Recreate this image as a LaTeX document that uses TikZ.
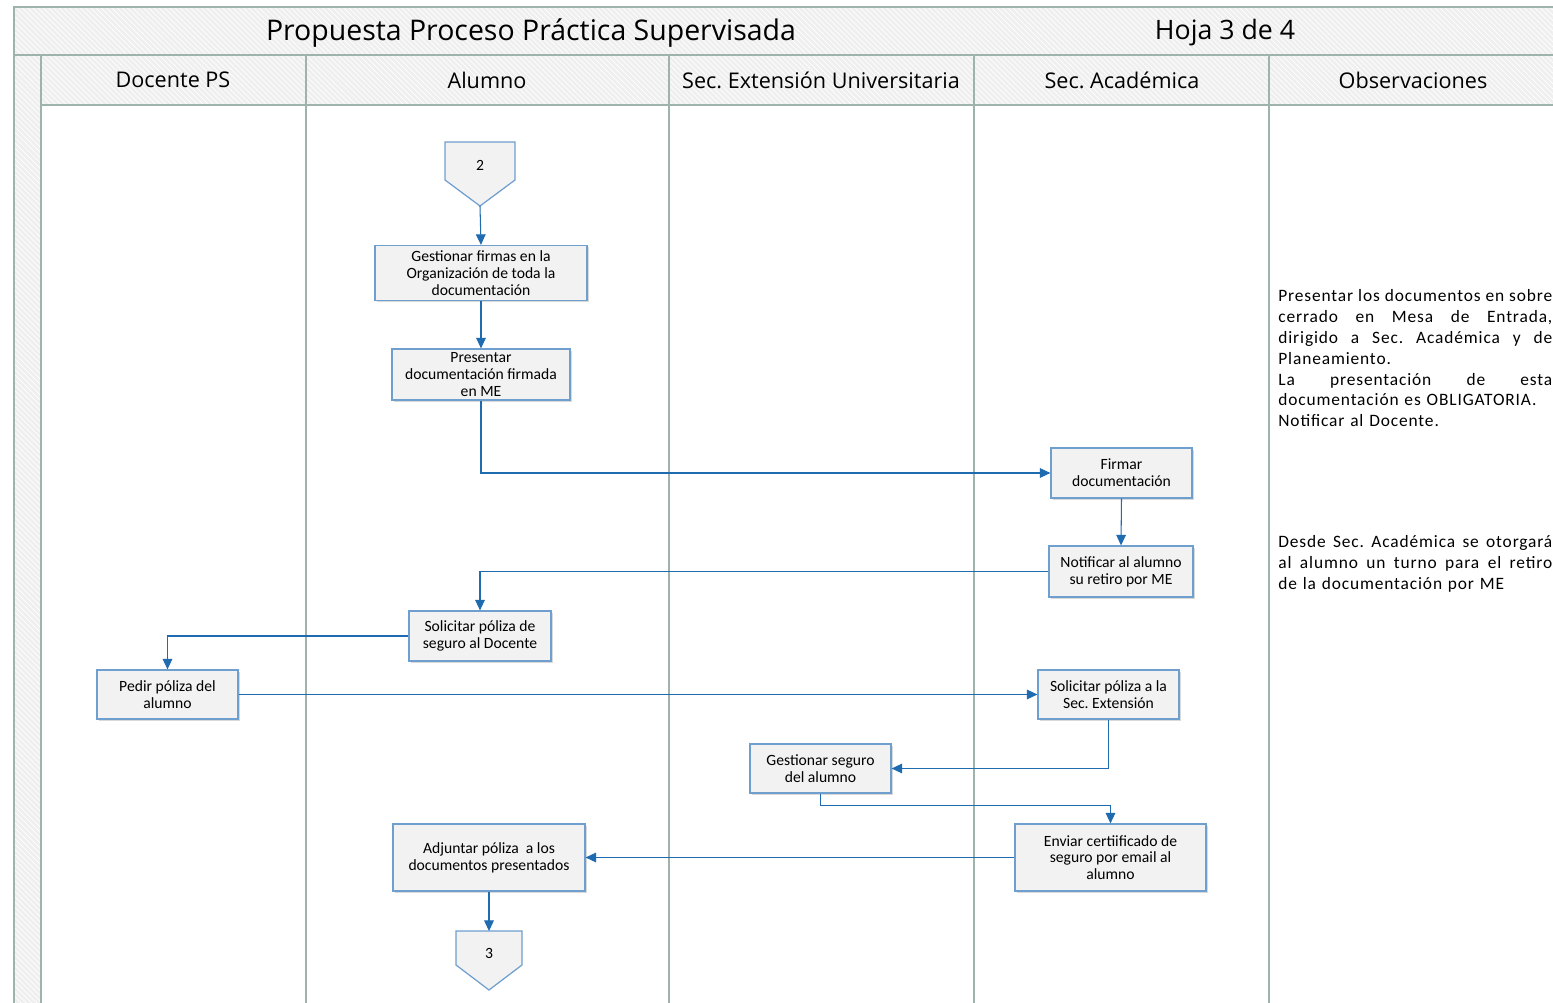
\documentclass[tikz,border=0pt]{standalone}
\usepackage{fontspec}
\setmainfont{Carlito}
\newfontfamily\headfont{Open Sans}
\newfontfamily\obsfont[LetterSpace=5]{Carlito}
\usepackage{tikz}
\usetikzlibrary{arrows.meta, shadows, patterns, positioning, calc}

\definecolor{boxfill}{HTML}{F2F2F2}
\definecolor{boxline}{HTML}{6E9FCF}
\definecolor{flowline}{HTML}{1E6BB0}
\definecolor{laneline}{HTML}{9EB3AC}
\definecolor{bandfill}{HTML}{EFEFEF}

\frenchspacing
\newcommand{\obsline}[1]{\makebox[5.48cm][s]{\spaceskip=0pt\xspaceskip=0pt #1}\\}

\tikzset {
    band/.style = {
        fill = bandfill,
        postaction = {pattern = north west lines, pattern color = white}
    },
    lane/.style = {
        draw = laneline,
        line width = 0.9pt
    },
    header/.style = {
        font = {\headfont\fontsize{12.3}{14}\selectfont}
    },
    title/.style = {
        font = {\headfont\fontsize{16.2}{19}\selectfont}
    },
    task/.style 2 args = {
        draw = boxline,
        fill = boxfill,
        line width = 0.7pt,
        drop shadow = {shadow xshift=0.9pt, shadow yshift=-1pt, opacity=0.3},
        minimum width = #1cm,
        minimum height = #2cm,
        inner sep = 1pt,
        align = center,
        font = {\fontsize{8.9}{9.6}\selectfont}
    },
    offpage/.style = {
        draw = boxline,
        fill = boxfill,
        line width = 0.7pt
    },
    flow/.style = {
        draw = flowline,
        line width = 0.6pt,
        -{Triangle[length=6pt, width=5.5pt]}
    },
    obs/.style = {
        anchor = north west,
        inner sep = 0pt,
        text width = 5.48cm,
        align = left,
        font = {\obsfont\fontsize{9.9}{11.9}\selectfont}
    }
}

\begin{document}
\begin{tikzpicture}[x=0.02cm, y=-0.02cm]
        \useasboundingbox (0, 0) rectangle (1553, 1003);

        % Frame : title band, header row, left strip
        \path [band] (14, 7)  rectangle (1553, 55);
        \path [band] (14, 55) rectangle (41, 1003);
        \path [band] (41, 55) rectangle (1553, 105);
        \draw [lane] (1553, 7) -- (14, 7) -- (14, 1003);
        \draw [lane] (14, 55)  -- (1553, 55);
        \draw [lane] (41, 105) -- (1553, 105);
        \foreach \xlane in {41, 306, 669, 974, 1269}
            \draw [lane] (\xlane, 55) -- (\xlane, 1003);

        \node [title]  at (531, 33)   (ttl)    {Propuesta Proceso Práctica Supervisada};
        \node [title, font={\headfont\fontsize{15.2}{18}\selectfont}] at (1225, 33) (sheet) {Hoja 3 de 4};
        \node [header] at (173, 80)   (hdoc)   {Docente PS};
        \node [header] at (487, 80)   (halu)   {Alumno};
        \node [header] at (821, 80)   (hext)   {Sec. Extensión Universitaria};
        \node [header] at (1122, 80)  (hacad)  {Sec. Académica};
        \node [header] at (1413, 80)  (hobs)   {Observaciones};

        % Off-page connectors
        \draw [offpage] (445, 142) -- (515, 142) -- (515, 180) -- (480, 206) -- (445, 180) -- cycle;
        \node [font=\fontsize{8.9}{10}\selectfont] at (480, 165) (off2) {2};
        \coordinate (off2tip) at (480, 206);

        \draw [offpage] (456, 931) -- (522, 931) -- (522, 965) -- (489, 990) -- (456, 965) -- cycle;
        \node [font=\fontsize{8.9}{10}\selectfont] at (489, 953) (off3) {3};
        \coordinate (off3top) at (489, 931);

        % Tasks
        \node [task={4.24}{1.1}]   at (481, 273)   (gest)   {Gestionar firmas en la\\Organización de toda la\\documentación};
        \node [task={3.56}{1.02}]  at (481, 374.5) (pres)   {Presentar\\documentación firmada\\en ME};
        \node [task={2.82}{1.0}]   at (1121.5, 473) (firmar) {Firmar\\documentación};
        \node [task={2.88}{1.02}]  at (1121, 571.5) (notif) {Notificar al alumno\\su retiro por ME};
        \node [task={2.84}{1.0}]   at (480, 636)   (solic)  {Solicitar póliza de\\seguro al Docente};
        \node [task={2.82}{0.98}]  at (167.5, 694.5) (pedir) {Pedir póliza del\\alumno};
        \node [task={2.82}{0.98}]  at (1108.5, 694.5) (solsec) {Solicitar póliza a la\\Sec. Extensión};
        \node [task={2.82}{0.98}]  at (820.5, 768.5) (gseg)  {Gestionar seguro\\del alumno};
        \node [task={3.82}{1.34}]  at (1110.5, 857.5) (envia) {Enviar certiificado de\\seguro por email al\\alumno};
        \node [task={3.84}{1.34}]  at (489, 857.5)  (adj)    {Adjuntar póliza \ a los\\documentos presentados};

        % Observations
        \node [obs] at (1278, 289) (obs1) {%
            \obsline{Presentar los documentos en sobre}
            \obsline{cerrado en Mesa de Entrada,}
            \obsline{dirigido a Sec. Académica y de}
            Planeamiento.\\
            \obsline{La presentación de esta}
            documentación es OBLIGATORIA.\\
            Notificar al Docente.};
        \node [obs] at (1278, 535) (obs2) {%
            \obsline{Desde Sec. Académica se otorgará}
            \obsline{al alumno un turno para el retiro}
            de la documentación por ME};

        % Connectors
        \draw [flow] (off2tip)      -- (gest.north);
        \draw [flow] (gest.south)   -- (pres.north);
        \draw [flow] (pres.south)   |- (firmar.west);
        \draw [flow] (firmar.south) -- (notif.north);
        \draw [flow] (notif.west)   -| (solic.north);
        \draw [flow] (solic.west)   -| (pedir.north);
        \draw [flow] (pedir.east)   -- (solsec.west);
        \draw [flow] (solsec.south) |- (gseg.east);
        \draw [flow] (gseg.south)   -- ++(0, 12) -| (envia.north);
        \draw [flow] (envia.west)   -- (adj.east);
        \draw [flow] (adj.south)    -- (off3top);
    \end{tikzpicture}
\end{document}
